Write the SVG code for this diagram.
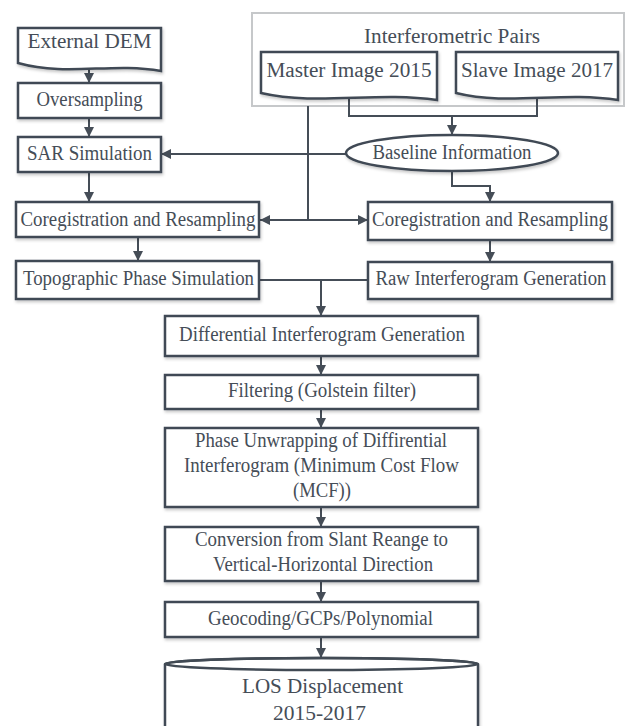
<svg xmlns="http://www.w3.org/2000/svg" width="626" height="726" viewBox="0 0 626 726">
<style>
.box{fill:#fff;stroke:#414a54;stroke-width:2.5;filter:url(#sh)}
.cont{fill:#fff;stroke:#c6c8ca;stroke-width:2}
.t{font-family:"Liberation Serif","Times New Roman",serif;font-size:20px;fill:#454d57;text-anchor:middle}
.c{fill:none;stroke:#454d57;stroke-width:2}
</style>
<defs>
<filter id="sh" x="-10%" y="-20%" width="120%" height="150%">
<feDropShadow dx="1" dy="2" stdDeviation="1.5" flood-color="#000" flood-opacity="0.22"/>
</filter>
<marker id="ar" viewBox="0 0 10 10" refX="10" refY="5" markerWidth="10" markerHeight="10" markerUnits="userSpaceOnUse" orient="auto">
<path d="M0,0 L10,5 L0,10 z" fill="#454d57"/>
</marker>
</defs>
<rect width="626" height="726" fill="#fff"/>

<g id="pairs">
<rect class="cont" x="252" y="13" width="372" height="93"/>
<text class="t" x="452" y="43" textLength="176" lengthAdjust="spacingAndGlyphs">Interferometric Pairs</text>
</g>

<g id="connectors">
<path class="c" d="M89,68 V83" marker-end="url(#ar)"/>
<path class="c" d="M89,118 V137" marker-end="url(#ar)"/>
<path class="c" d="M89,172 V202" marker-end="url(#ar)"/>
<path class="c" d="M349,97 V116 H537 V99"/>
<path class="c" d="M452,116 V135" marker-end="url(#ar)"/>
<path class="c" d="M346,154 H161" marker-end="url(#ar)"/>
<path class="c" d="M308,106 V220"/>
<path class="c" d="M308,220 H260" marker-end="url(#ar)"/>
<path class="c" d="M308,220 H368" marker-end="url(#ar)"/>
<path class="c" d="M452,171 V186 H490 V202" marker-end="url(#ar)"/>
<path class="c" d="M138,237 V261" marker-end="url(#ar)"/>
<path class="c" d="M490,240 V262" marker-end="url(#ar)"/>
<path class="c" d="M259,280 H368"/>
<path class="c" d="M321,280 V316" marker-end="url(#ar)"/>
<path class="c" d="M321,356 V375" marker-end="url(#ar)"/>
<path class="c" d="M321,409 V428" marker-end="url(#ar)"/>
<path class="c" d="M321,507 V527" marker-end="url(#ar)"/>
<path class="c" d="M321,581 V602" marker-end="url(#ar)"/>
<path class="c" d="M321,637 V658" marker-end="url(#ar)"/>
</g>

<g id="external-dem">
<path class="box" d="M18,28 H161 V71 C111,62 68,77 18,63 Z"/>
<text class="t" x="89.5" y="48" textLength="124" lengthAdjust="spacingAndGlyphs">External DEM</text>
</g>
<g id="oversampling">
<rect class="box" x="18" y="83" width="143" height="35"/>
<text class="t" x="89.5" y="106" textLength="106" lengthAdjust="spacingAndGlyphs">Oversampling</text>
</g>
<g id="sar-simulation">
<rect class="box" x="18" y="137" width="143" height="35"/>
<text class="t" x="89.5" y="160" textLength="125" lengthAdjust="spacingAndGlyphs">SAR Simulation</text>
</g>
<g id="master">
<path class="box" d="M261,52 H437 V100 C376,91 318,106 261,93 Z"/>
<text class="t" x="349" y="77" textLength="165" lengthAdjust="spacingAndGlyphs">Master Image 2015</text>
</g>
<g id="slave">
<path class="box" d="M456,52 H618 V100 C562,91 508,106 456,93 Z"/>
<text class="t" x="537" y="77" textLength="152" lengthAdjust="spacingAndGlyphs">Slave Image 2017</text>
</g>
<g id="baseline">
<ellipse class="box" cx="452" cy="153" rx="106" ry="18"/>
<text class="t" x="452" y="159" textLength="159" lengthAdjust="spacingAndGlyphs">Baseline Information</text>
</g>
<g id="coreg-left">
<rect class="box" x="16" y="202" width="243" height="35"/>
<text class="t" x="138" y="226" textLength="235" lengthAdjust="spacingAndGlyphs">Coregistration and Resampling</text>
</g>
<g id="coreg-right">
<rect class="box" x="368" y="202" width="244" height="38"/>
<text class="t" x="490" y="226" textLength="236" lengthAdjust="spacingAndGlyphs">Coregistration and Resampling</text>
</g>
<g id="topographic">
<rect class="box" x="16" y="261" width="243" height="38"/>
<text class="t" x="138.5" y="285" textLength="231" lengthAdjust="spacingAndGlyphs">Topographic Phase Simulation</text>
</g>
<g id="raw">
<rect class="box" x="368" y="262" width="244" height="37"/>
<text class="t" x="491" y="285" textLength="231" lengthAdjust="spacingAndGlyphs">Raw Interferogram Generation</text>
</g>
<g id="differential">
<rect class="box" x="165" y="316" width="313" height="40"/>
<text class="t" x="322" y="341" textLength="286" lengthAdjust="spacingAndGlyphs">Differential Interferogram Generation</text>
</g>
<g id="filtering">
<rect class="box" x="165" y="375" width="313" height="34"/>
<text class="t" x="322" y="397" textLength="188" lengthAdjust="spacingAndGlyphs">Filtering (Golstein filter)</text>
</g>
<g id="unwrapping">
<rect class="box" x="165" y="428" width="313" height="79"/>
<text class="t" x="321" y="447" textLength="252" lengthAdjust="spacingAndGlyphs">Phase Unwrapping of Diffirential</text>
<text class="t" x="321.5" y="472" textLength="275" lengthAdjust="spacingAndGlyphs">Interferogram (Minimum Cost Flow</text>
<text class="t" x="322" y="497" textLength="58" lengthAdjust="spacingAndGlyphs">(MCF))</text>
</g>
<g id="conversion">
<rect class="box" x="165" y="527" width="313" height="54"/>
<text class="t" x="321.5" y="546" textLength="253" lengthAdjust="spacingAndGlyphs">Conversion from Slant Reange to</text>
<text class="t" x="323" y="571" textLength="220" lengthAdjust="spacingAndGlyphs">Vertical-Horizontal Direction</text>
</g>
<g id="geocoding">
<rect class="box" x="165" y="602" width="313" height="35"/>
<text class="t" x="320.5" y="625" textLength="225" lengthAdjust="spacingAndGlyphs">Geocoding/GCPs/Polynomial</text>
</g>
<g id="los">
<path class="box" d="M165,664 A156.5,6 0 0 1 478,664 V740 H165 Z"/>
<ellipse cx="321.5" cy="664" rx="156.5" ry="6" fill="none" stroke="#414a54" stroke-width="2.5"/>
<text class="t" x="322.5" y="693" textLength="161" lengthAdjust="spacingAndGlyphs">LOS Displacement</text>
<text class="t" x="319.5" y="720" textLength="93" lengthAdjust="spacingAndGlyphs">2015-2017</text>
</g>
</svg>
